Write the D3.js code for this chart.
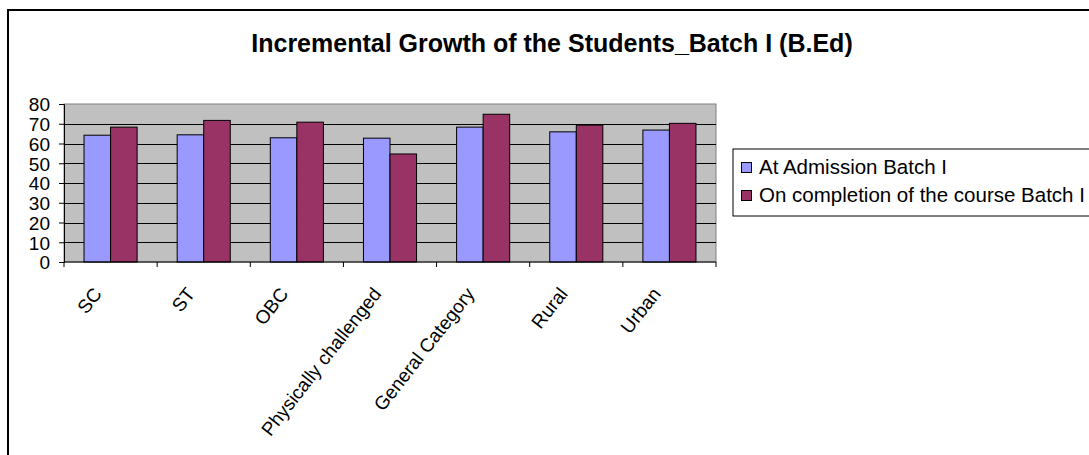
<!DOCTYPE html>
<html>
<head>
<meta charset="utf-8">
<script src="https://cdn.jsdelivr.net/npm/d3@7"></script>
<style>
  body { margin: 0; background: #fff; }
  svg text { font-family: "Liberation Sans", Arial, sans-serif; fill: #000; }
</style>
</head>
<body>
<script>
// chart data
var categories = ["SC", "ST", "OBC", "Physically challenged", "General Category", "Rural", "Urban"];
var seriesNames = ["At Admission Batch I", "On completion of the course Batch I"];
var admission = [64.2, 64.4, 62.9, 62.7, 68.3, 65.9, 66.8];
var completion = [68.3, 71.7, 70.8, 54.7, 74.8, 69.3, 70.2];
var yTicks = [0, 10, 20, 30, 40, 50, 60, 70, 80];
var colors = ["#9999FF", "#993366"];

var W = 1089, H = 455;
var plot = {left: 64, right: 716, top: 104, bottom: 262};

var svg = d3.select("body").append("svg").attr("width", W).attr("height", H);

// outer chart border (runs off the right and bottom edges)
svg.append("rect").attr("x", 8).attr("y", 10).attr("width", W + 20).attr("height", H + 20)
  .attr("fill", "none").attr("stroke", "#000").attr("stroke-width", 2);

svg.append("text").attr("x", 552).attr("y", 52).attr("text-anchor", "middle")
  .style("font-size", "25px").style("font-weight", "bold")
  .text("Incremental Growth of the Students_Batch I (B.Ed)");

var x0 = d3.scaleBand().domain(categories).range([plot.left, plot.right]).paddingInner(0.43).paddingOuter(0.215);
var x = d3.scaleBand().domain([0, 1]).range([0, x0.bandwidth()]);
var y = d3.scaleLinear().domain([0, 80]).range([plot.bottom, plot.top]);

// plot background
svg.append("rect").attr("x", plot.left).attr("y", plot.top)
  .attr("width", plot.right - plot.left).attr("height", plot.bottom - plot.top)
  .attr("fill", "#C0C0C0").attr("stroke", "#808080");

// gridlines
svg.append("g").selectAll("line").data(yTicks.filter(d => d > 0 && d < 80)).join("line")
  .attr("x1", plot.left).attr("x2", plot.right)
  .attr("y1", d => Math.round(y(d)) + 0.5).attr("y2", d => Math.round(y(d)) + 0.5)
  .attr("stroke", "#000");

// bars
var groups = svg.append("g").selectAll("g").data(categories).join("g")
  .attr("transform", d => "translate(" + x0(d) + ",0)");
groups.selectAll("rect").data((d, i) => [admission[i], completion[i]]).join("rect")
  .attr("x", (d, j) => x(j)).attr("width", x.bandwidth())
  .attr("y", d => y(d)).attr("height", d => y(0) - y(d))
  .attr("fill", (d, j) => colors[j]).attr("stroke", "#000");

// y axis
var yAxis = svg.append("g").attr("transform", "translate(" + plot.left + ",0)")
  .call(d3.axisLeft(y).tickValues(yTicks).tickSize(5).tickPadding(9));
yAxis.select(".domain").attr("stroke", "#000");
yAxis.selectAll("text").style("font-size", "19px").attr("dy", "0.36em");

// x axis with ticks between categories
var xAxis = svg.append("g").attr("transform", "translate(0," + plot.bottom + ")");
xAxis.append("line").attr("x1", plot.left).attr("x2", plot.right).attr("stroke", "#000");
var step = (plot.right - plot.left) / categories.length;
xAxis.selectAll(".tk").data(d3.range(categories.length + 1)).join("line")
  .attr("x1", i => plot.left + i * step).attr("x2", i => plot.left + i * step)
  .attr("y1", 0).attr("y2", 5).attr("stroke", "#000");
xAxis.selectAll(".lb").data(categories).join("text")
  .attr("text-anchor", "end")
  .attr("transform", d => "translate(" + (x0(d) + x0.bandwidth() / 2 - 13) + ",28) rotate(-52)")
  .attr("dy", "0.35em")
  .style("font-size", "19px")
  .text(d => d);

// legend
var lg = svg.append("g");
lg.append("rect").attr("x", 733).attr("y", 149).attr("width", 400).attr("height", 67)
  .attr("fill", "#fff").attr("stroke", "#000");
seriesNames.forEach(function(name, i) {
  var cy = 167 + i * 28;
  lg.append("rect").attr("x", 741.5).attr("y", cy - 4.5).attr("width", 10).attr("height", 10)
    .attr("fill", colors[i]).attr("stroke", "#000");
  lg.append("text").attr("x", 759).attr("y", cy).attr("dy", "0.35em")
    .style("font-size", "20.5px").text(name);
});
</script>
</body>
</html>
